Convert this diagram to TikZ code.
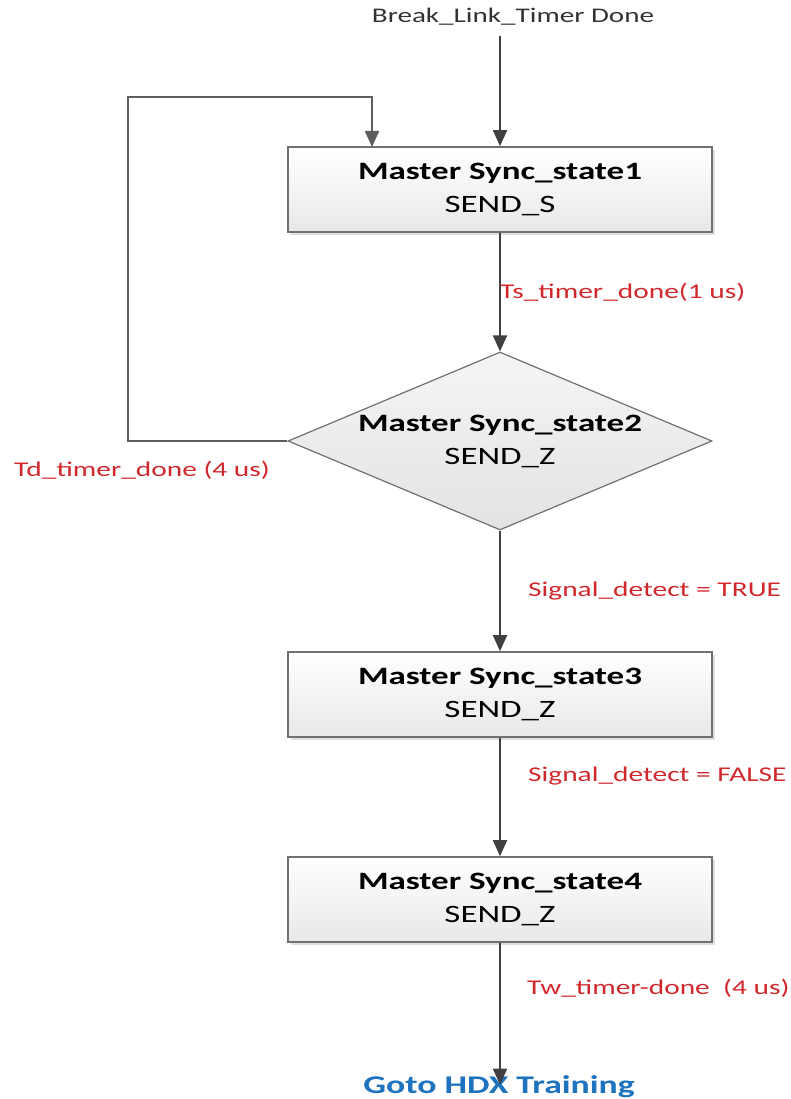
\documentclass[tikz,border=0pt]{standalone}
\usepackage{fontspec}
\setmainfont[FakeStretch=1.4]{Carlito}
\usetikzlibrary{shapes.geometric,arrows.meta,shadows}
\definecolor{lab}{RGB}{208,40,44}
\definecolor{goto}{RGB}{30,115,190}
\definecolor{arr}{RGB}{64,64,64}
\definecolor{bord}{RGB}{112,112,112}
\begin{document}
\begin{tikzpicture}[x=1pt,y=-1pt,
  statebox/.style={draw=bord, line width=1.6pt, top color=white, bottom color=black!9,
    minimum width=424, minimum height=85, inner sep=0, align=center,
    font=\fontsize{25}{33}\selectfont,
    drop shadow={shadow xshift=3pt, shadow yshift=-3pt, fill=black!25, opacity=0.5}},
  decision/.style={diamond, aspect=2.38, draw=bord, line width=1.2pt, top color=black!4, bottom color=black!11,
    minimum width=424, minimum height=178, inner sep=0, align=center,
    font=\fontsize{25}{33}\selectfont},
  flow/.style={draw=arr, line width=1.8pt, -{Triangle[width=14pt,length=16pt]}},
  loopline/.style={draw=arr!85, line width=1.8pt, -{Triangle[width=14pt,length=16pt]}},
  cond/.style={text=lab, anchor=west, inner sep=0, font=\fontsize{21}{24}\selectfont},
]
\useasboundingbox (0,0) rectangle (790,1099);
\node[inner sep=0, text=black!80, font=\fontsize{20.8}{24}\selectfont] (start) at (513,17) {Break\_Link\_Timer Done};
\coordinate (startpt) at (500,36);
\node[statebox] (s1) at (500,189.5) {\textbf{Master Sync\_state1}\\SEND\_S};
\node[decision] (s2) at (500,441) {\textbf{Master Sync\_state2}\\SEND\_Z};
\node[statebox] (s3) at (500,694.5) {\textbf{Master Sync\_state3}\\SEND\_Z};
\node[statebox] (s4) at (500,899.5) {\textbf{Master Sync\_state4}\\SEND\_Z};
\node[inner sep=0, text=goto, font=\fontsize{25.5}{28}\selectfont\bfseries] (goto) at (499,1087) {Goto HDX Training};
\coordinate (loopA) at (128,97);
\coordinate (loopB) at (372,147);

\draw[flow] (startpt) -- (s1.north -| startpt);
\draw[flow] (s1.south) -- (s2.north);
\draw[flow] (s2.south) -- (s3.north);
\draw[flow] (s3.south) -- (s4.north);
\draw[flow] (s4.south) -- ([yshift=-9pt]s4.south |- goto.north);
\draw[loopline] (s2.west) -| (loopA) -| (loopB);

\node[cond] (l1) at (500,292) {Ts\_timer\_done(1 us)};
\node[cond] (l2) at (14,470) {Td\_timer\_done (4 us)};
\node[cond] (l3) at (528,591) {Signal\_detect = TRUE};
\node[cond] (l4) at (528,776) {Signal\_detect = FALSE};
\node[cond] (l5) at (527,988) {Tw\_timer-done\ \ (4 us)};
\end{tikzpicture}
\end{document}
